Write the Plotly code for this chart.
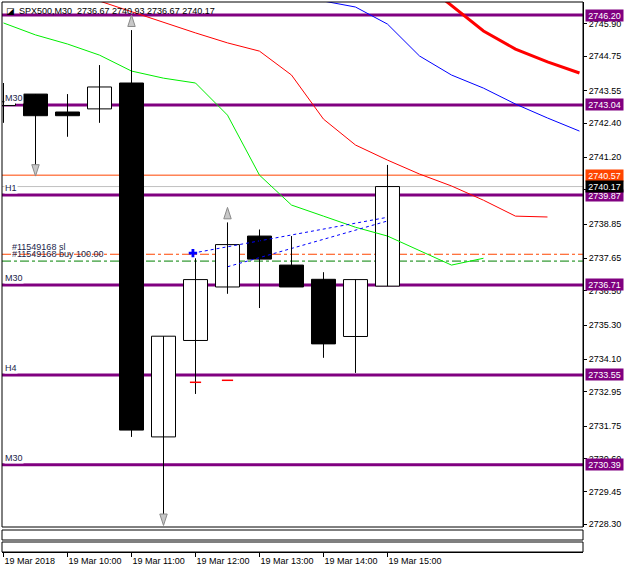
import plotly.graph_objects as go

# ---------------- data ----------------
bar_index = list(range(13))
opens  = [2743.02, 2743.42, 2742.79, 2742.90, 2743.81, 2731.37, 2734.76, 2736.64, 2738.43, 2737.41, 2736.91, 2734.90, 2736.67]
highs  = [2743.81, 2743.42, 2743.42, 2744.44, 2745.67, 2734.91, 2737.65, 2738.91, 2738.66, 2738.43, 2737.16, 2736.90, 2740.93]
lows   = [2742.41, 2740.89, 2741.92, 2742.41, 2731.37, 2728.61, 2732.88, 2736.40, 2735.90, 2736.64, 2734.15, 2733.62, 2736.67]
closes = [2743.15, 2742.66, 2742.66, 2743.67, 2731.61, 2734.91, 2736.90, 2738.13, 2737.62, 2736.64, 2734.64, 2736.90, 2740.17]

tick_index = [0, 2, 4, 6, 8, 10, 12]
tick_labels = ["19 Mar 2018", "19 Mar 10:00", "19 Mar 11:00", "19 Mar 12:00",
               "19 Mar 13:00", "19 Mar 14:00", "19 Mar 15:00"]

y_ticks = [2745.90, 2744.75, 2743.55, 2742.40, 2741.20, 2740.05, 2738.85, 2737.65,
           2736.50, 2735.30, 2734.10, 2732.95, 2731.75, 2730.60, 2729.45, 2728.30]

# Alligator-style shifted moving averages
lips_index = list(range(0, 16))
lips = [2745.92, 2745.50, 2745.18, 2744.79, 2744.23, 2743.98, 2743.81, 2742.68,
        2740.57, 2739.52, 2739.13, 2738.74, 2738.43, 2737.93, 2737.41, 2737.65]
teeth_index = list(range(3, 18))
teeth = [2746.69, 2746.31, 2745.95, 2745.57, 2745.22, 2744.93, 2744.09, 2742.54,
         2741.63, 2741.10, 2740.61, 2740.19, 2739.69, 2739.13, 2739.10]
jaw_index = list(range(10, 19))
jaw = [2746.69, 2746.48, 2745.88, 2744.76, 2744.09, 2743.63, 2743.07, 2742.58, 2742.12]
slow_index = list(range(13, 19))
slow_ma = [2747.43, 2746.55, 2745.64, 2745.00, 2744.55, 2744.16]

# horizontal levels
level_prices = [2746.20, 2743.04, 2739.87, 2736.71, 2733.55, 2730.39]
level_tags = ["", "M30", "H1", "M30", "H4", "M30"]
ask_price = 2740.57
bid_price = 2740.17
sl_price = 2737.79
buy_price = 2737.55
sl_text = "#11549168 sl"
buy_text = "#11549168 buy 100.00"
header_text = "SPX500,M30  2736.67 2740.93 2736.67 2740.17"

# trade history lines (index, price)
trade_a_x = [5.92, 12.0]
trade_a_y = [2737.83, 2739.09]
trade_b_x = [7.0, 12.0]
trade_b_y = [2737.35, 2738.96]
buy_mark_x = [5.92]
buy_mark_y = [2737.83]
close_mark_x = [6.0, 7.0]
close_mark_y = [2733.29, 2733.36]

fractal_up_index = [4, 7]
fractal_down_index = [1, 5]

# ---------------- layout constants ----------------
W, H = 626, 572
M_T, M_B, M_L, M_R = 2, 20, 2, 43
PLOT_H = H - M_T - M_B          # 550
MAIN_BOTTOM_PX = 527
PX_PER_UNIT = 28.45
y_top = 2746.20 + (15 - M_T) / PX_PER_UNIT
y_bot = 2746.20 - (MAIN_BOTTOM_PX - 15) / PX_PER_UNIT
main_dom0 = (H - M_B - MAIN_BOTTOM_PX) / PLOT_H
BODY_W = 0.75


def py(px):
    return (H - M_B - px) / PLOT_H


FONT = "Liberation Sans, Arial, sans-serif"
PURPLE = "#800080"
ORANGE = "#FF4500"

fig = go.Figure()


def line_trace(x, y, color, width=1, dash="solid"):
    fig.add_trace(go.Scatter(x=x, y=y, mode="lines", hoverinfo="skip", showlegend=False,
                             line=dict(color=color, width=width, dash=dash)))


line_trace(lips_index, lips, "#00ee00")
line_trace(teeth_index, teeth, "#ff0000")
line_trace(jaw_index, jaw, "#0000ff")
line_trace(slow_index, slow_ma, "#ff0000", width=3)
line_trace(trade_a_x, trade_a_y, "#0000ff", dash="dot")
line_trace(trade_b_x, trade_b_y, "#0000ff", dash="dot")

# candle wicks
wx, wy = [], []
for i, h, l in zip(bar_index, highs, lows):
    wx += [i, i, None]
    wy += [l, h, None]
line_trace(wx, wy, "black", width=1)

# candle bodies
body_base = [min(o, c) for o, c in zip(opens, closes)]
body_len = [abs(c - o) for o, c in zip(opens, closes)]
body_fill = ["white" if c >= o else "black" for o, c in zip(opens, closes)]
fig.add_trace(go.Bar(x=bar_index, y=body_len, base=body_base, width=BODY_W,
                     marker=dict(color=body_fill, line=dict(color="black", width=1)),
                     hoverinfo="skip", showlegend=False))

up_off = 15 / PX_PER_UNIT
dn_off = 10 / PX_PER_UNIT
fig.add_trace(go.Scatter(
    x=fractal_up_index, y=[highs[i] + up_off for i in fractal_up_index],
    mode="markers", hoverinfo="skip", showlegend=False,
    marker=dict(symbol="arrow", size=12, angle=0, color="#c8c8c8",
                line=dict(color="#8a8a8a", width=1))))
fig.add_trace(go.Scatter(
    x=fractal_down_index, y=[lows[i] - dn_off for i in fractal_down_index],
    mode="markers", hoverinfo="skip", showlegend=False,
    marker=dict(symbol="arrow", size=12, angle=180, color="#c8c8c8",
                line=dict(color="#8a8a8a", width=1))))
fig.add_trace(go.Scatter(
    x=buy_mark_x, y=buy_mark_y, mode="markers", hoverinfo="skip", showlegend=False,
    marker=dict(symbol="cross", size=7, color="#0000ff", line=dict(width=0))))
fig.add_trace(go.Scatter(
    x=close_mark_x, y=close_mark_y, mode="markers", hoverinfo="skip", showlegend=False,
    marker=dict(symbol="line-ew", size=8, line=dict(color="#ff0000", width=1.5))))

shapes = []
for lv in level_prices:
    shapes.append(dict(type="line", xref="paper", x0=0, x1=1, yref="y", y0=lv, y1=lv,
                       line=dict(color=PURPLE, width=3), layer="below"))
shapes.append(dict(type="line", xref="paper", x0=0, x1=1, yref="y", y0=ask_price, y1=ask_price,
                   line=dict(color=ORANGE, width=1), layer="below"))
shapes.append(dict(type="line", xref="paper", x0=0, x1=1, yref="y", y0=bid_price, y1=bid_price,
                   line=dict(color="#c0c0c0", width=1), layer="below"))
shapes.append(dict(type="line", xref="paper", x0=0, x1=1, yref="y", y0=sl_price, y1=sl_price,
                   line=dict(color=ORANGE, width=1, dash="dashdot"), layer="below"))
shapes.append(dict(type="line", xref="paper", x0=0, x1=1, yref="y", y0=buy_price, y1=buy_price,
                   line=dict(color="#008000", width=1, dash="dashdot"), layer="below"))
# main frame and empty sub-windows
shapes.append(dict(type="rect", xref="paper", yref="paper", x0=0, x1=1, y0=main_dom0, y1=1,
                   line=dict(color="black", width=1), fillcolor="rgba(0,0,0,0)", layer="above"))
shapes.append(dict(type="rect", xref="paper", yref="paper", x0=0, x1=1, y0=py(540), y1=py(530),
                   line=dict(color="black", width=1), fillcolor="rgba(0,0,0,0)", layer="above"))
shapes.append(dict(type="rect", xref="paper", yref="paper", x0=0, x1=1, y0=py(552), y1=py(542),
                   line=dict(color="black", width=1), fillcolor="rgba(0,0,0,0)", layer="above"))

ann = []
for lv, tag in zip(level_prices, level_tags):
    ann.append(dict(xref="paper", x=1, xanchor="left", xshift=2, yref="y", y=lv, yanchor="middle",
                    text=f"{lv:.2f}", showarrow=False, bgcolor=PURPLE, width=37, height=11,
                    borderpad=0, font=dict(family=FONT, size=9, color="white")))
    if tag:
        ann.append(dict(xref="paper", x=0, xanchor="left", xshift=2, yref="y", y=lv, yanchor="bottom",
                        yshift=1, text=tag, showarrow=False, bgcolor="white", borderpad=0,
                        font=dict(family=FONT, size=9, color="#1b1f4b")))
ann.append(dict(xref="paper", x=1, xanchor="left", xshift=2, yref="y", y=ask_price, yanchor="middle",
                text=f"{ask_price:.2f}", showarrow=False, bgcolor=ORANGE, width=37, height=11,
                borderpad=0, font=dict(family=FONT, size=9, color="white")))
ann.append(dict(xref="paper", x=1, xanchor="left", xshift=2, yref="y", y=bid_price, yanchor="middle",
                text=f"{bid_price:.2f}", showarrow=False, bgcolor="black", width=37, height=11,
                borderpad=0, font=dict(family=FONT, size=9, color="white")))
ann.append(dict(xref="paper", x=0, xanchor="left", xshift=8, yref="y", y=sl_price, yanchor="bottom",
                yshift=0, text=sl_text, showarrow=False,
                font=dict(family=FONT, size=9, color="#1b1f4b")))
ann.append(dict(xref="paper", x=0, xanchor="left", xshift=8, yref="y", y=buy_price, yanchor="bottom",
                yshift=0, text=buy_text, showarrow=False,
                font=dict(family=FONT, size=9, color="#1b1f4b")))
ann.append(dict(xref="paper", x=0, xanchor="left", xshift=15, yref="paper", y=1, yanchor="top",
                yshift=-2, text=header_text, showarrow=False,
                font=dict(family=FONT, size=9, color="black")))
ann.append(dict(xref="paper", x=0, xanchor="left", xshift=2, yref="paper", y=1, yanchor="top",
                yshift=-2, text="◪", showarrow=False,
                font=dict(family="DejaVu Sans", size=9, color="black")))

fig.update_layout(
    width=W, height=H, margin=dict(l=M_L, r=M_R, t=M_T, b=M_B, autoexpand=False),
    paper_bgcolor="white", plot_bgcolor="white", showlegend=False, barmode="overlay",
    shapes=shapes, annotations=ann,
    xaxis=dict(range=[-0.047, 18.11], anchor="free", position=0, showline=True,
               linecolor="black", linewidth=1, ticks="outside", ticklen=4, tickcolor="black",
               tickvals=tick_index, ticktext=tick_labels, ticklabelposition="outside right",
               automargin=False, showgrid=False, zeroline=False,
               tickfont=dict(family=FONT, size=9, color="black")),
    yaxis=dict(domain=[main_dom0, 1], range=[y_bot, y_top], side="right", showline=True,
               linecolor="black", linewidth=1, ticks="outside", ticklen=3, tickcolor="black",
               tickvals=y_ticks, ticktext=[f"{v:.2f}" for v in y_ticks], automargin=False,
               showgrid=False, zeroline=False,
               tickfont=dict(family=FONT, size=9, color="black")),
)

fig.write_html("out.html", config={"displayModeBar": False},
               post_script="document.body.style.margin='0';")
